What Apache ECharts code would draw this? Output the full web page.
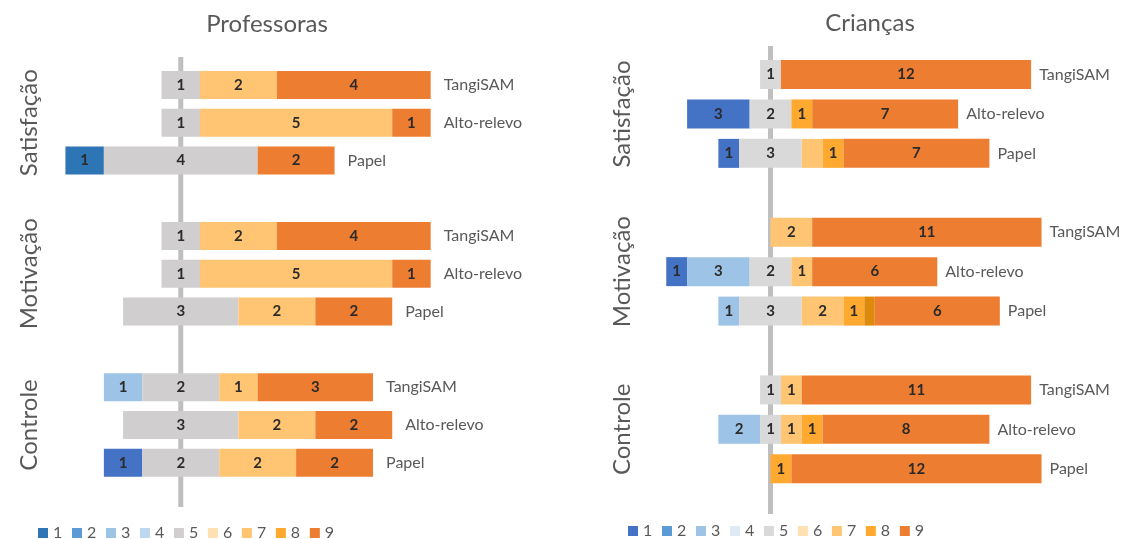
<!DOCTYPE html>
<html><head><meta charset="utf-8">
<script src="https://cdn.jsdelivr.net/npm/echarts@6/dist/echarts.min.js"></script>
<style>html,body{margin:0;padding:0;background:#fff}#c{width:1121px;height:539px}</style>
</head><body><div id="c"></div>
<script>
// ---------- data ----------
const panelTitles = ['Professoras', 'Crianças'];
const groups = ['Satisfação', 'Motivação', 'Controle'];
const tools = ['TangiSAM', 'Alto-relevo', 'Papel'];
const levels = ['1', '2', '3', '4', '5', '6', '7', '8', '9'];

// counts per row (group x tool), for levels 1..9
const profCounts = [
  [0,0,0,0,1,0,2,0,4],   // Satisfação TangiSAM
  [0,0,0,0,1,0,5,0,1],   // Satisfação Alto-relevo
  [1,0,0,0,4,0,0,0,2],   // Satisfação Papel
  [0,0,0,0,1,0,2,0,4],   // Motivação TangiSAM
  [0,0,0,0,1,0,5,0,1],   // Motivação Alto-relevo
  [0,0,0,0,3,0,2,0,2],   // Motivação Papel
  [0,0,1,0,2,0,1,0,3],   // Controle TangiSAM
  [0,0,0,0,3,0,2,0,2],   // Controle Alto-relevo
  [1,0,0,0,2,0,2,0,2]    // Controle Papel
];
const criCounts = [
  [0,0,0,0,1,0,0,0,12],
  [3,0,0,0,2,0,0,1,7],
  [1,0,0,0,3,0,1,1,7],
  [0,0,0,0,0,0,2,0,11],
  [1,0,3,0,2,0,1,0,6],
  [0,0,1,0,3,0,2,1,6],
  [0,0,0,0,1,0,1,0,11],
  [0,0,2,0,1,0,1,1,8],
  [0,0,0,0,0,0,0,1,12]
];
// unlabeled dark-orange sliver between levels 8 and 9 (Crianças)
const criExtra = [0,0,0,0,0,0.5,0,0,0];
// segments drawn without a number in the original: [row, level index]
const criUnlabeled = [[2, 6]];
// rows whose level-1 segment uses the alternate blue (Professoras)
const profAltLevel1Rows = [8];
const centerValue = 0;

// ---------- styling ----------
const FONT = 'Lato, "Liberation Sans", sans-serif';
const profColors = ['#2E75B6','#5B9BD5','#9DC3E6','#BDD7EE','#D0CECE','#FFE0B2','#FFC573','#FFA931','#ED7D31'];
const criColors  = ['#4472C4','#5B9BD5','#9DC3E6','#DEEBF7','#D9D9D9','#FFE0B2','#FFC573','#FFA931','#ED7D31'];

const cats = [], rowMap = [];
groups.forEach((g, gi) => {
  if (gi > 0) { cats.push('sep' + gi); rowMap.push(-1); }
  tools.forEach((t, ti) => { cats.push(g + ' · ' + t); rowMap.push(gi * tools.length + ti); });
});

const panels = [
  { title: panelTitles[0], counts: profCounts, colors: profColors, extra: null, unlabeled: [],
    alt: profAltLevel1Rows, altColor: '#4472C4',
    grid: {left: 46.2, width: 480.6, top: 66, height: 415.6}, xMin: -3.5, xMax: 9,
    lineGrid: {top: 57, height: 450}, barWidth: 28, labelMargin: 5, nameDist: 13,
    titleX: 262, titleTop: 7, legendLeft: 33, legendTop: 520 },
  { title: panelTitles[1], counts: criCounts, colors: criColors, extra: criExtra, extraColor: '#DE8A0C',
    unlabeled: criUnlabeled, alt: [], altColor: null,
    grid: {left: 645.4, width: 469.1, top: 54.8, height: 433.7}, xMin: -6, xMax: 16.5,
    lineGrid: {top: 46, height: 468}, barWidth: 29, labelMargin: 11, nameDist: 8,
    titleX: 865, titleTop: 6, legendLeft: 623, legendTop: 518 }
];

const option = {
  animation: false,
  backgroundColor: '#fff',
  title: [], grid: [], xAxis: [], yAxis: [], legend: [], series: []
};

panels.forEach((p, pi) => {
  option.title.push({ text: p.title, left: p.titleX, top: p.titleTop, textAlign: 'center',
    textStyle: { fontFamily: FONT, fontSize: 24, fontWeight: 'normal', color: '#595959' } });
  option.grid.push(Object.assign({ outerBoundsMode: 'none', containLabel: false }, p.grid));
  option.xAxis.push({ type: 'value', gridIndex: pi, min: p.xMin, max: p.xMax, show: false });
  option.yAxis.push({ type: 'category', gridIndex: pi, data: cats, inverse: true,
    axisLine: { show: false, onZero: false }, axisTick: { show: false }, splitLine: { show: false },
    axisLabel: { interval: 0, rotate: 90, margin: p.labelMargin, fontFamily: FONT, fontSize: 24, color: '#595959',
      formatter: (v, idx) => { const r = rowMap[idx]; return (r >= 0 && r % tools.length === 1) ? groups[Math.floor(r / tools.length)] : ''; } } });
  option.legend.push({ left: p.legendLeft, top: p.legendTop, icon: 'rect', itemWidth: 10, itemHeight: 10, itemGap: 9.7,
    selectedMode: false, data: levels.map((l, i) => ({ name: l, itemStyle: { color: p.colors[i] } })),
    textStyle: { fontFamily: FONT, fontSize: 16, color: '#595959' } });

  const common = { type: 'bar', xAxisIndex: pi, yAxisIndex: pi, stack: 's' + pi, stackStrategy: 'all',
    barWidth: p.barWidth, z: 10, emphasis: { disabled: true }, animation: false };
  const base = rowMap.map(r => r < 0 ? 0 :
    centerValue - (p.counts[r].slice(0, 4).reduce((a, b) => a + b, 0) + p.counts[r][4] / 2));
  option.series.push(Object.assign({}, common, { name: 'base' + pi, data: base, silent: true,
    itemStyle: { color: 'rgba(0,0,0,0)' }, label: { show: false } }));
  levels.forEach((lv, li) => {
    if (li === 8 && p.extra) {
      option.series.push(Object.assign({}, common, { name: 'extra' + pi,
        data: rowMap.map(r => r < 0 ? 0 : p.extra[r]), itemStyle: { color: p.extraColor }, label: { show: false } }));
    }
    const color = (li === 0 && p.alt.length)
      ? (prm => p.alt.includes(rowMap[prm.dataIndex]) ? p.altColor : p.colors[0])
      : p.colors[li];
    option.series.push(Object.assign({}, common, { name: lv,
      data: rowMap.map(r => r < 0 ? 0 : p.counts[r][li]),
      itemStyle: { color: color },
      label: { show: true, position: 'inside', fontFamily: FONT, fontSize: 15, fontWeight: 'bold', color: '#2b2b2b',
        formatter: prm => {
          const r = rowMap[prm.dataIndex];
          if (!prm.value) return '';
          if (p.unlabeled.some(u => u[0] === r && u[1] === li)) return '';
          return String(prm.value);
        } } }));
  });
  option.series.push(Object.assign({}, common, { name: 'names' + pi, silent: true,
    data: rowMap.map(r => r < 0 ? 0 : 0.001), itemStyle: { color: 'rgba(0,0,0,0)' },
    label: { show: true, position: 'right', distance: p.nameDist, fontFamily: FONT, fontSize: 16, color: '#595959',
      formatter: prm => { const r = rowMap[prm.dataIndex]; return r < 0 ? '' : tools[r % tools.length]; } } }));
});

// center (neutral) line grids
panels.forEach((p, pi) => {
  const gi = 2 + pi;
  option.grid.push({ outerBoundsMode: 'none', containLabel: false, left: p.grid.left, width: p.grid.width,
    top: p.lineGrid.top, height: p.lineGrid.height });
  option.xAxis.push({ type: 'value', gridIndex: gi, min: p.xMin, max: p.xMax, show: false });
  option.yAxis.push({ type: 'value', gridIndex: gi, min: 0, max: 1, show: false });
  option.series.push({ type: 'line', xAxisIndex: gi, yAxisIndex: gi, silent: true, animation: false,
    data: [[centerValue, 0], [centerValue, 1]], symbol: 'none', showSymbol: false, z: 1,
    lineStyle: { color: '#BFBFBF', width: 5 } });
});

const chart = echarts.init(document.getElementById('c'));
chart.setOption(option);
</script>
</body></html>
